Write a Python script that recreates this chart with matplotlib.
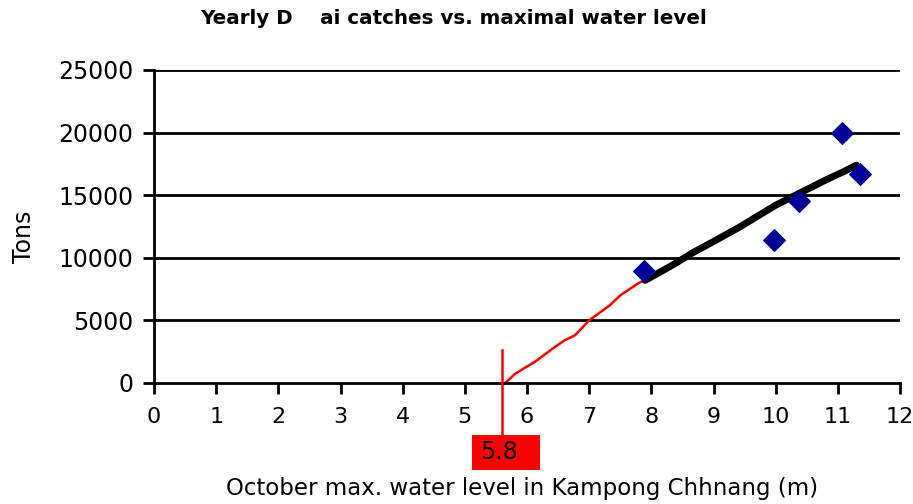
import matplotlib
matplotlib.use("Agg")
import matplotlib.pyplot as plt
from matplotlib.patches import Rectangle

# Observed catches (diamonds)
obs_x = [7.88, 9.97, 10.37, 11.06, 11.35]
obs_y = [8950, 11400, 14500, 19950, 16700]

# Fitted relation, observed range (black)
fit_x = [7.9, 8.3, 8.7, 9.0, 9.4, 9.8, 10.0, 10.4, 10.8, 11.1, 11.3]
fit_y = [8200, 9300, 10500, 11300, 12400, 13600, 14200, 15200, 16200, 16900, 17400]

# Extrapolated relation (red)
ext_x = [5.65, 5.8, 5.96, 6.13, 6.4, 6.6, 6.77, 7.0, 7.33, 7.5, 7.8, 7.93]
ext_y = [0, 700, 1200, 1700, 2700, 3400, 3800, 5000, 6200, 7000, 8000, 8300]

threshold_x = 5.6
threshold_label = "5.8"

xticks = list(range(0, 13))
yticks = [0, 5000, 10000, 15000, 20000, 25000]

plt.rcParams['font.family'] = ['DejaVu Sans']
fig = plt.figure(figsize=(9.13, 5.04), dpi=100)
ax = fig.add_axes([154/913, 1-383/504, (900-154)/913, (383-70)/504])

for yv in yticks[1:]:
    ax.axhline(yv, color='black', lw=2, zorder=1)

ax.plot(ext_x, ext_y, color='red', lw=1.8, zorder=2)
ax.plot(fit_x, fit_y, color='black', lw=5, solid_capstyle='round', zorder=3)
ax.scatter(obs_x, obs_y, marker='D', s=120, color='#000099', edgecolors='#000099', zorder=4)
ax.plot([threshold_x, threshold_x], [-4200, 2600], color='red', lw=1.8, clip_on=False, zorder=5)

ax.set_xlim(0, 12)
ax.set_ylim(0, 25000)
ax.set_xticks(xticks)
ax.set_yticks(yticks)
for s in ['top', 'right']:
    ax.spines[s].set_visible(False)
for s in ['left', 'bottom']:
    ax.spines[s].set_linewidth(2)
ax.tick_params(axis='both', width=2, length=8, labelsize=17, direction='out', pad=7)
ax.tick_params(axis='x', pad=9, labelsize=16)

ax.add_patch(Rectangle((5.115, -6950), 6.21 - 5.115, 6950 - 4155, facecolor='red', edgecolor='none',
                       clip_on=False, zorder=6))
ax.text(5.55, -5550, threshold_label, ha='center', va='center', fontsize=17, zorder=7, clip_on=False)

fig.text(454/913, 1-19/504, "Yearly D    ai catches vs. maximal water level", ha='center', va='center',
         fontsize=14.3, fontweight='bold')
fig.text(522/913, 1-488/504, "October max. water level in Kampong Chhnang (m)", ha='center', va='center',
         fontsize=16.5)
fig.text(24/913, 1-237/504, "Tons", ha='center', va='center', rotation=90, fontsize=17)

fig.savefig("out.png", dpi=100)
